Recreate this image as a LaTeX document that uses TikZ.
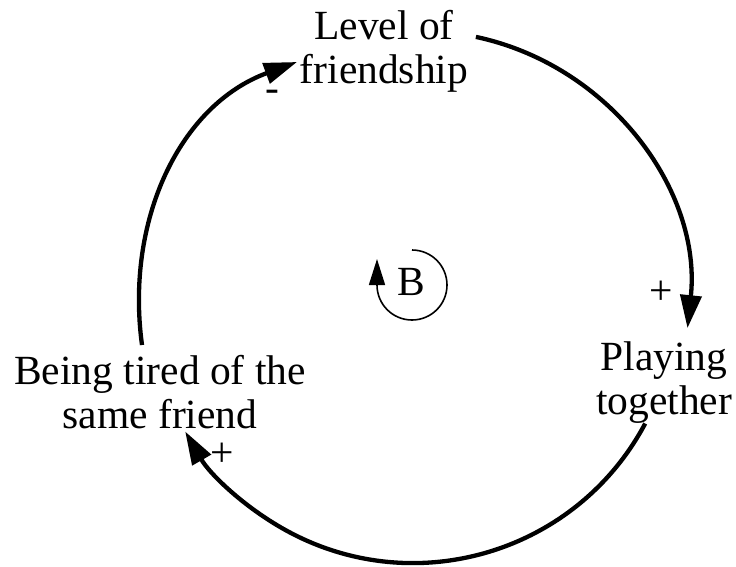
\documentclass[tikz,border=0pt]{standalone}
\usepackage{fontspec}
\setmainfont{Liberation Serif}
\usetikzlibrary{arrows.meta}
\begin{document}
\begin{tikzpicture}[x=1pt,y=1pt,
  varlabel/.style={inner sep=0pt,align=center,anchor=north,font=\fontsize{41.5}{44}\selectfont},
  signlabel/.style={inner sep=0pt,font=\fontsize{41.5}{44}\selectfont},
  bigarrow/.style={line width=4.3pt,-{Triangle[length=33pt,width=21pt]}},
  looparrow/.style={line width=1.6pt,-{Triangle[length=26pt,width=16pt]}}]
\fill[white] (0,0) rectangle (736,-566);
\useasboundingbox (0,0) rectangle (736,-566);
% variables
\node[varlabel] (lof) at (384,-9.7) {Level of\\friendship};
\node[varlabel] (pt) at (664,-341.7) {Playing\\together};
\node[varlabel] (bt) at (160,-354.7) {Being tired of the\\same friend};
\node[signlabel] (B) at (411,-282) {B};
% connector end points
\coordinate (a1s) at (475.9,-36.9);
\coordinate (a2s) at (645.2,-423.5);
\coordinate (a3s) at (142,-345);
\coordinate (a3e) at (297,-62);
\coordinate (loops) at (412,-250);
% links
\draw[bigarrow] (a1s) arc[start angle=78,end angle=-6,radius=269];
\draw[bigarrow] (a2s) arc[start angle=-28,end angle=-150,radius=263];
\draw[bigarrow] (a3s) .. controls (125,-220) and (180,-105) .. (a3e);
% loop marker
\draw[looparrow] (loops) arc[start angle=90,end angle=-180,radius=35] -- ++(0,26);
% polarities
\node[signlabel] (s1) at (661,-293) {+};
\node[signlabel] (s2) at (222,-455) {+};
\node[signlabel] (s3) at (272,-96) {-};
\end{tikzpicture}
\end{document}
